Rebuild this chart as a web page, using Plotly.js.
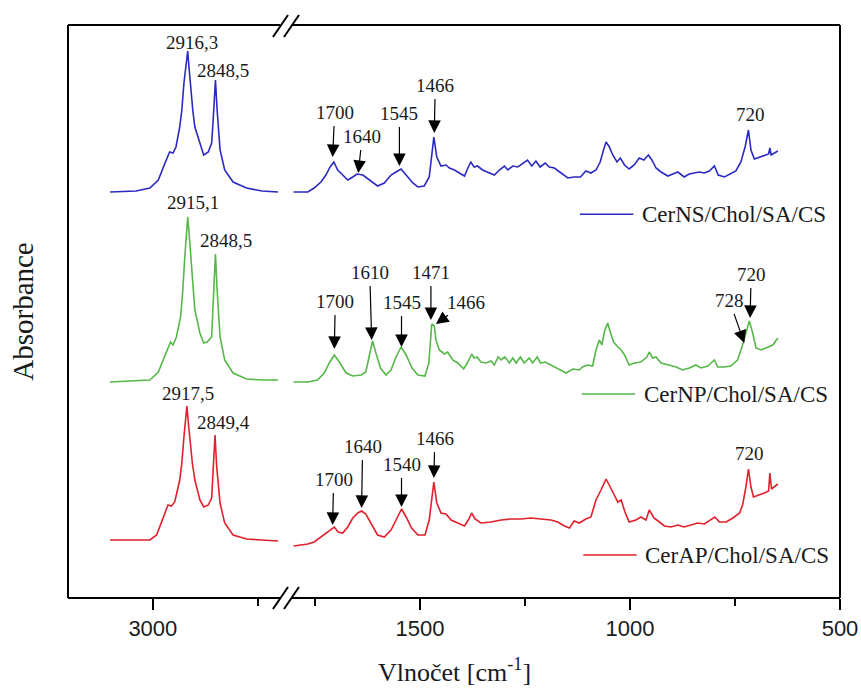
<!DOCTYPE html>
<html>
<head>
<meta charset="utf-8">
<script src="https://cdn.plot.ly/plotly-3.0.1.min.js"></script>
<style>html,body{margin:0;padding:0;background:#fff}#chart{width:861px;height:691px}</style>
</head>
<body>
<div id="chart"></div>
<script>
// ---------- DATA (wavenumber in cm-1, relative absorbance) ----------
const seriesNames = ['CerNS/Chol/SA/CS', 'CerNP/Chol/SA/CS', 'CerAP/Chol/SA/CS'];

// C-H stretching region (left panel)
const nsHighX = [3102,3040,3007,2987,2971,2960,2952,2945,2936,2931,2926,2922,2917,2914,2910,2905,2900,2888,2879,2868,2860,2855,2851,2847,2840,2829,2809,2777,2740,2702];
const nsHighY = [0,0.01,0.04,0.12,0.29,0.40,0.39,0.45,0.65,0.82,1.09,1.25,1.41,1.25,1.05,0.82,0.65,0.49,0.37,0.40,0.49,0.82,1.12,0.82,0.42,0.22,0.10,0.04,0.01,0];

const npHighX = [3102,3040,3007,2987,2969,2958,2952,2944,2934,2929,2924,2920,2917,2914,2910,2905,2900,2888,2879,2871,2860,2855,2851,2847,2840,2829,2809,2777,2740,2702];
const npHighY = [0,0.01,0.02,0.10,0.29,0.40,0.37,0.45,0.65,0.90,1.25,1.50,1.65,1.50,1.25,0.95,0.72,0.49,0.39,0.40,0.45,0.92,1.28,0.92,0.45,0.22,0.09,0.03,0.02,0.02];

const apHighX = [3102,3040,3007,2991,2975,2964,2956,2948,2936,2931,2926,2922,2919,2915,2912,2906,2900,2888,2879,2868,2860,2855,2852,2848,2840,2829,2809,2777,2740,2702];
const apHighY = [0.05,0.05,0.05,0.10,0.28,0.40,0.39,0.43,0.65,0.82,1.08,1.28,1.39,1.20,1.05,0.82,0.65,0.45,0.38,0.40,0.47,0.82,1.10,0.78,0.42,0.22,0.10,0.06,0.05,0.04];

// Fingerprint region (right panel)
const nsLowX = [1801,1767,1752,1736,1724,1714,1705,1696,1684,1672,1660,1650,1636,1621,1601,1585,1569,1557,1545,1533,1517,1505,1490,1478,1467,1460,1450,1438,1430,1418,1406,1394,1386,1379,1371,1363,1351,1335,1323,1311,1299,1291,1279,1267,1255,1244,1234,1224,1214,1202,1192,1180,1164,1148,1133,1118,1105,1093,1081,1071,1063,1057,1049,1041,1031,1023,1013,1002,990,978,967,956,948,938,926,910,898,886,871,859,847,835,823,811,799,790,775,760,748,736,726,718,712,704,692,680,670,667,664,648];
const nsLowY = [0,0,0.04,0.10,0.17,0.25,0.30,0.22,0.17,0.12,0.15,0.18,0.17,0.12,0.06,0.09,0.17,0.20,0.23,0.17,0.09,0.05,0.06,0.15,0.55,0.35,0.26,0.27,0.24,0.22,0.19,0.16,0.24,0.30,0.25,0.26,0.22,0.19,0.17,0.22,0.26,0.22,0.26,0.25,0.29,0.32,0.26,0.31,0.25,0.29,0.25,0.24,0.19,0.14,0.15,0.15,0.21,0.19,0.22,0.30,0.42,0.50,0.45,0.37,0.30,0.34,0.27,0.23,0.27,0.34,0.32,0.37,0.32,0.24,0.20,0.16,0.18,0.20,0.15,0.18,0.19,0.20,0.19,0.21,0.26,0.17,0.15,0.18,0.21,0.30,0.45,0.62,0.42,0.33,0.35,0.37,0.38,0.44,0.37,0.41];

const npLowX = [1801,1767,1744,1728,1716,1704,1692,1676,1660,1640,1629,1621,1613,1605,1594,1581,1569,1557,1545,1533,1519,1505,1488,1479,1472,1466,1462,1454,1442,1434,1422,1410,1396,1386,1377,1371,1364,1355,1343,1331,1323,1314,1307,1298,1287,1279,1271,1261,1252,1240,1232,1221,1213,1202,1188,1168,1152,1136,1121,1113,1101,1089,1081,1073,1067,1060,1053,1047,1039,1029,1021,1013,1002,990,974,960,954,946,938,926,910,890,875,859,843,831,815,799,791,775,760,744,732,724,716,708,700,688,676,660,648];
const npLowY = [0,0,0.02,0.09,0.19,0.27,0.20,0.09,0.06,0.07,0.10,0.25,0.41,0.29,0.14,0.07,0.12,0.25,0.35,0.27,0.14,0.07,0.06,0.19,0.58,0.56,0.42,0.32,0.28,0.30,0.22,0.19,0.13,0.20,0.28,0.24,0.25,0.20,0.19,0.21,0.17,0.25,0.22,0.25,0.19,0.24,0.19,0.25,0.19,0.24,0.19,0.25,0.19,0.20,0.17,0.12,0.09,0.13,0.12,0.15,0.17,0.16,0.32,0.42,0.37,0.52,0.59,0.50,0.40,0.35,0.32,0.27,0.17,0.19,0.20,0.25,0.30,0.24,0.25,0.19,0.17,0.15,0.12,0.14,0.17,0.14,0.16,0.22,0.15,0.15,0.16,0.22,0.37,0.49,0.61,0.49,0.34,0.32,0.34,0.37,0.44];

const apLowX = [1801,1767,1752,1736,1724,1712,1704,1695,1684,1672,1660,1648,1639,1629,1617,1601,1585,1569,1557,1544,1533,1520,1505,1488,1478,1467,1460,1450,1438,1426,1410,1394,1385,1377,1369,1355,1331,1307,1283,1260,1236,1212,1188,1172,1156,1144,1133,1121,1105,1093,1081,1069,1057,1047,1037,1029,1021,1012,1002,986,974,962,954,943,930,918,902,886,871,855,839,823,807,798,787,771,755,739,732,724,718,712,706,692,680,670,667,663,648];
const apLowY = [-0.01,0.01,0.03,0.08,0.12,0.16,0.18,0.13,0.12,0.18,0.27,0.32,0.34,0.31,0.22,0.10,0.08,0.15,0.25,0.36,0.28,0.17,0.10,0.10,0.25,0.63,0.42,0.32,0.31,0.25,0.22,0.19,0.25,0.32,0.26,0.22,0.23,0.25,0.26,0.26,0.27,0.26,0.25,0.23,0.19,0.17,0.24,0.22,0.26,0.28,0.45,0.55,0.66,0.58,0.50,0.43,0.45,0.33,0.23,0.25,0.28,0.25,0.35,0.27,0.23,0.19,0.18,0.20,0.18,0.20,0.22,0.21,0.25,0.28,0.23,0.23,0.27,0.32,0.40,0.58,0.76,0.58,0.48,0.50,0.52,0.54,0.72,0.56,0.61];

// Peak labels (text)
const highLabels = ['2916,3','2848,5','2915,1','2848,5','2917,5','2849,4'];
const lowLabelsNS = ['1700','1640','1545','1466','720'];
const lowLabelsNP = ['1700','1610','1545','1471','1466','728','720'];
const lowLabelsAP = ['1700','1640','1540','1466','720'];

// ---------- STYLE / LAYOUT ----------
const colors = ['#2a2ac2', '#55b848', '#e0202c'];
const offsets = [4.06, 2.16, 0.53];   // vertical stacking of the spectra
const serif = 'Liberation Serif, Times New Roman, serif';
const sans = 'Liberation Sans, Arial, sans-serif';

function sh(arr, off) { return arr.map(v => v + off); }

const highX = [nsHighX, npHighX, apHighX], highY = [nsHighY, npHighY, apHighY];
const lowX = [nsLowX, npLowX, apLowX], lowY = [nsLowY, npLowY, apLowY];

const traces = [];
for (let i = 0; i < 3; i++) {
  traces.push({x: highX[i], y: sh(highY[i], offsets[i]), xaxis: 'x', yaxis: 'y', mode: 'lines',
    line: {color: colors[i], width: 1.6}, name: seriesNames[i], showlegend: false, hoverinfo: 'skip'});
  traces.push({x: lowX[i], y: sh(lowY[i], offsets[i]), xaxis: 'x2', yaxis: 'y', mode: 'lines',
    line: {color: colors[i], width: 1.6}, name: seriesNames[i], showlegend: false, hoverinfo: 'skip'});
}

const txtFont = {family: serif, size: 19, color: '#1a1a1a'};
const ann = [];
// left panel labels
const highPos = [[2908,5.56],[2833,5.28],[2904,3.96],[2827,3.58],[2916,2.05],[2833,1.76]];
highLabels.forEach((t, k) => ann.push({xref:'x', yref:'y', x: highPos[k][0], y: highPos[k][1], text: t, showarrow:false, font: txtFont}));

function arrowAnn(t, x, y, ax, ay) {
  return {xref:'x2', yref:'y', x: x, y: y, ax: ax, ay: ay, text: t, showarrow: true,
    arrowhead: 2, arrowsize: 2.1, arrowwidth: 1.2, arrowcolor: '#000', font: txtFont, standoff: 0, startstandoff: 2};
}
function plainAnn(t, x, y) {
  return {xref:'x2', yref:'y', x: x, y: y, text: t, showarrow: false, font: txtFont};
}
// CerNS
ann.push(arrowAnn(lowLabelsNS[0], 1708, 4.41, 2, -45));
ann.push(arrowAnn(lowLabelsNS[1], 1647, 4.25, 4, -37));
ann.push(arrowAnn(lowLabelsNS[2], 1549, 4.32, 0, -53));
ann.push(arrowAnn(lowLabelsNS[3], 1466, 4.65, 1, -48));
ann.push(plainAnn(lowLabelsNS[4], 714, 4.84));
// CerNP
ann.push(arrowAnn(lowLabelsNP[0], 1704, 2.49, 1, -48));
ann.push(arrowAnn(lowLabelsNP[1], 1615, 2.58, -2, -68));
ann.push(arrowAnn(lowLabelsNP[2], 1544, 2.51, 0, -45));
ann.push(arrowAnn(lowLabelsNP[3], 1474, 2.78, 0, -48));
ann.push(arrowAnn(lowLabelsNP[4], 1462, 2.74, 30, -22));
ann.push(arrowAnn(lowLabelsNP[5], 728, 2.55, -15, -43));
ann.push(arrowAnn(lowLabelsNP[6], 714, 2.80, 1, -44));
// CerAP
ann.push(arrowAnn(lowLabelsAP[0], 1708, 0.73, 1, -46));
ann.push(arrowAnn(lowLabelsAP[1], 1639, 0.90, 1, -62));
ann.push(arrowAnn(lowLabelsAP[2], 1544, 0.91, 0, -43));
ann.push(arrowAnn(lowLabelsAP[3], 1467, 1.20, 1, -40));
ann.push(plainAnn(lowLabelsAP[4], 716, 1.45));

// legend entries (line sample + text)
const legPos = [[0.6632, 0.7323, 0.6696, 0.7409], [0.6654, 0.7345, 0.3560, 0.7431], [0.6675, 0.7366, 0.0750, 0.7452]];
const shapes = [];
legPos.forEach((p, i) => {
  shapes.push({type:'line', xref:'paper', yref:'paper', x0:p[0], x1:p[1], y0:p[2], y1:p[2], line:{color:colors[i], width:1.6}});
  ann.push({xref:'paper', yref:'paper', x:p[3], y:p[2], xanchor:'left', yanchor:'middle', text: seriesNames[i], showarrow:false,
    font:{family: serif, size: 23, color:'#1a1a1a'}});
});

// x-axis title
ann.push({xref:'paper', yref:'paper', x:0.5, y:-0.126, xanchor:'center', yanchor:'middle', showarrow:false,
  text:'Vlnočet [cm<sup>-1</sup>]', font:{family: serif, size: 26, color:'#1a1a1a'}});

// frame with axis break
const fl = {color:'#000', width:2};
const L = (x0,y0,x1,y1) => ({type:'line', xref:'paper', yref:'paper', x0, y0, x1, y1, line: fl, layer:'above'});
shapes.push(L(0,0,0,1), L(1,0,1,1));
shapes.push(L(0,1,0.2753,1), L(0.2895,1,1,1));
shapes.push(L(0,0,0.2753,0), L(0.2895,0,1,0));
shapes.push(L(0.2655,0.9791,0.2850,1.0175), L(0.2798,0.9791,0.2992,1.0175));
shapes.push(L(0.2655,-0.0192,0.2850,0.0192), L(0.2798,-0.0192,0.2992,0.0192));

const xCommon = {
  tickmode:'linear', tick0:0, dtick:500, ticks:'outside', ticklen:11, tickwidth:2, tickcolor:'#000',
  showline:false, showgrid:false, zeroline:false, anchor:'y',
  tickfont:{family: sans, size: 22, color:'#1a1a1a'},
  minor:{ticks:'outside', ticklen:7, tickwidth:2, tickcolor:'#000', tick0:0, dtick:250, showgrid:false}
};

const layout = {
  width: 861, height: 691,
  margin: {l:68, r:21, t:25, b:93},
  paper_bgcolor:'#fff', plot_bgcolor:'#fff',
  showlegend:false,
  xaxis: Object.assign({}, xCommon, {domain:[0,0.2824], range:[3202,2683]}),
  xaxis2: Object.assign({}, xCommon, {domain:[0.2824,1], range:[1819,500]}),
  yaxis: {range:[0,5.73], showticklabels:false, ticks:'', showgrid:false, zeroline:false, showline:false,
    title:{text:'Absorbance', font:{family: serif, size: 29, color:'#1a1a1a'}, standoff: 24}},
  annotations: ann,
  shapes: shapes
};

Plotly.newPlot('chart', traces, layout, {staticPlot:true, displayModeBar:false});
</script>
</body>
</html>
